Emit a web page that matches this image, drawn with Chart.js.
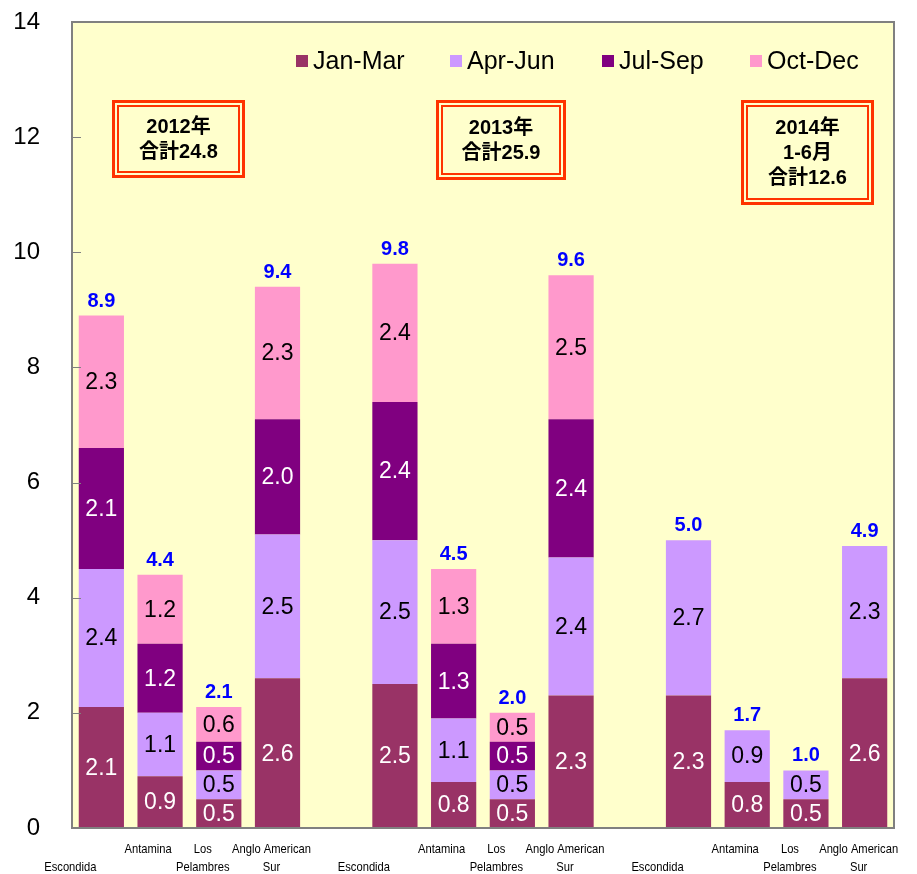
<!DOCTYPE html>
<html>
<head>
<meta charset="utf-8">
<script src="https://cdn.jsdelivr.net/npm/chart.js@4.4.1/dist/chart.umd.min.js"></script>
<style>
    html, body { margin: 0; padding: 0; background: #ffffff; }
    #wrap { width: 917px; height: 874px; }
</style>
</head>
<body>
<div id="wrap"><canvas id="grafico" width="917" height="874"></canvas></div>
<script>
// Dados do gráfico (milhões de toneladas por trimestre)
const minas = [['', 'Escondida'], ['Antamina'], ['Los', 'Pelambres'], ['Anglo American', 'Sur']];
const categorias = [...minas, '', ...minas, '', ...minas];
const trimestres = ['Jan-Mar', 'Apr-Jun', 'Jul-Sep', 'Oct-Dec'];

const janMar = [2.1, 0.9, 0.5, 2.6, null, 2.5, 0.8, 0.5, 2.3, null, 2.3, 0.8, 0.5, 2.6];
const aprJun = [2.4, 1.1, 0.5, 2.5, null, 2.5, 1.1, 0.5, 2.4, null, 2.7, 0.9, 0.5, 2.3];
const julSep = [2.1, 1.2, 0.5, 2.0, null, 2.4, 1.3, 0.5, 2.4, null, null, null, null, null];
const octDec = [2.3, 1.2, 0.6, 2.3, null, 2.4, 1.3, 0.5, 2.5, null, null, null, null, null];
const totais = [8.9, 4.4, 2.1, 9.4, null, 9.8, 4.5, 2.0, 9.6, null, 5.0, 1.7, 1.0, 4.9];

const textosCaixas = [['2012年', '合計24.8'], ['2013年', '合計25.9'], ['2014年', '1-6月', '合計12.6']];

// -------------------------------------------------------------
// ESTILOS
// -------------------------------------------------------------
const cores = ['#993366', '#CC99FF', '#800080', '#FF99CC'];
const coresTexto = ['#ffffff', '#000000', '#ffffff', '#000000'];
const posCaixas = [
    { x: 112, y: 100, w: 133, h: 78 },
    { x: 436, y: 100, w: 130, h: 80 },
    { x: 741, y: 100, w: 133, h: 105 }
];
const posLegenda = [296, 450, 602, 750];
const deslocRotulo = [-31, -12, -16, -6];
const fonteNum = '"Liberation Sans", Arial, sans-serif';

const pluginDesenho = {
    id: 'desenho',
    beforeDraw(chart) {
        const { ctx, chartArea: a } = chart;
        ctx.save();
        ctx.fillStyle = '#FFFFCC';
        ctx.fillRect(a.left, a.top, a.right - a.left, a.bottom - a.top);
        ctx.restore();
    },
    afterDatasetsDraw(chart) {
        const { ctx, chartArea: a } = chart;
        const escalaX = chart.scales.x;
        const escalaY = chart.scales.y;
        ctx.save();

        // borda da área do gráfico
        ctx.strokeStyle = '#808080';
        ctx.lineWidth = 2;
        ctx.strokeRect(a.left, a.top, a.right - a.left, a.bottom - a.top);

        // marcas do eixo y (para dentro)
        ctx.lineWidth = 1;
        escalaY.ticks.forEach(t => {
            const y = Math.round(escalaY.getPixelForValue(t.value)) + 0.5;
            ctx.beginPath();
            ctx.moveTo(a.left, y);
            ctx.lineTo(a.left + 9, y);
            ctx.stroke();
        });

        // rótulos dentro das barras
        ctx.textAlign = 'center';
        ctx.textBaseline = 'middle';
        ctx.font = '23px ' + fonteNum;
        chart.data.datasets.forEach((ds, i) => {
            const meta = chart.getDatasetMeta(i);
            meta.data.forEach((bar, j) => {
                if (ds.data[j] == null) return;
                ctx.fillStyle = coresTexto[i];
                ctx.fillText(ds.data[j].toFixed(1), bar.x, (bar.y + bar.base) / 2 + 1);
            });
        });

        // totais acima das barras
        ctx.font = 'bold 20px ' + fonteNum;
        ctx.fillStyle = '#0000FF';
        ctx.textBaseline = 'alphabetic';
        totais.forEach((tot, j) => {
            if (tot == null) return;
            const x = escalaX.getPixelForValue(j);
            const y = escalaY.getPixelForValue(tot);
            ctx.fillText(tot.toFixed(1), x, y - 9);
        });

        // rótulos do eixo x (fonte estreita)
        ctx.font = '13px "Liberation Sans", sans-serif';
        ctx.fillStyle = '#000000';
        ctx.textBaseline = 'middle';
        categorias.forEach((cat, j) => {
            if (!Array.isArray(cat)) return;
            const x = escalaX.getPixelForValue(j) + deslocRotulo[j % 5];
            cat.forEach((linha, k) => {
                ctx.save();
                ctx.translate(x, 849 + k * 18);
                ctx.scale(0.86, 1);
                ctx.fillText(linha, 0, 0);
                ctx.restore();
            });
        });

        // legenda
        ctx.font = '25px ' + fonteNum;
        ctx.textAlign = 'left';
        trimestres.forEach((nome, i) => {
            const x = posLegenda[i];
            ctx.fillStyle = cores[i];
            ctx.fillRect(x, 55, 12, 12);
            ctx.fillStyle = '#000000';
            ctx.fillText(nome, x + 17, 62);
        });

        // caixas de anotação
        ctx.textAlign = 'center';
        ctx.font = 'bold 20px "Liberation Sans", "Noto Sans CJK JP", sans-serif';
        textosCaixas.forEach((linhas, i) => {
            const c = posCaixas[i];
            ctx.strokeStyle = '#FF3300';
            ctx.lineWidth = 3;
            ctx.strokeRect(c.x + 1.5, c.y + 1.5, c.w - 3, c.h - 3);
            ctx.lineWidth = 2;
            ctx.strokeRect(c.x + 6, c.y + 6, c.w - 12, c.h - 12);
            ctx.fillStyle = '#000000';
            const cy = c.y + c.h / 2;
            linhas.forEach((l, k) => {
                ctx.fillText(l, c.x + c.w / 2, cy + (k - (linhas.length - 1) / 2) * 25 + 1);
            });
        });

        ctx.restore();
    }
};

const conjuntos = [janMar, aprJun, julSep, octDec].map((serie, i) => ({
    label: trimestres[i],
    data: serie,
    backgroundColor: cores[i],
    borderWidth: 0,
    barPercentage: 0.77,
    categoryPercentage: 1.0
}));

new Chart(document.getElementById('grafico').getContext('2d'), {
    type: 'bar',
    data: { labels: categorias, datasets: conjuntos },
    options: {
        responsive: false,
        animation: false,
        devicePixelRatio: 1,
        layout: { padding: { top: 22, right: 23, left: 0, bottom: 0 } },
        plugins: { legend: { display: false }, tooltip: { enabled: false } },
        scales: {
            x: {
                stacked: true,
                offset: true,
                grid: { display: false, drawTicks: false },
                border: { display: false },
                ticks: { display: false },
                afterFit: s => { s.height = 46; }
            },
            y: {
                stacked: true,
                min: 0, max: 14,
                grid: { display: false, drawTicks: false },
                border: { display: false },
                ticks: { stepSize: 2, padding: 32, color: '#000000', font: { size: 24, family: fonteNum } },
                afterFit: s => { s.width = 72; s.paddingTop = 0; s.paddingBottom = 0; }
            }
        }
    },
    plugins: [pluginDesenho]
});
</script>
</body>
</html>
